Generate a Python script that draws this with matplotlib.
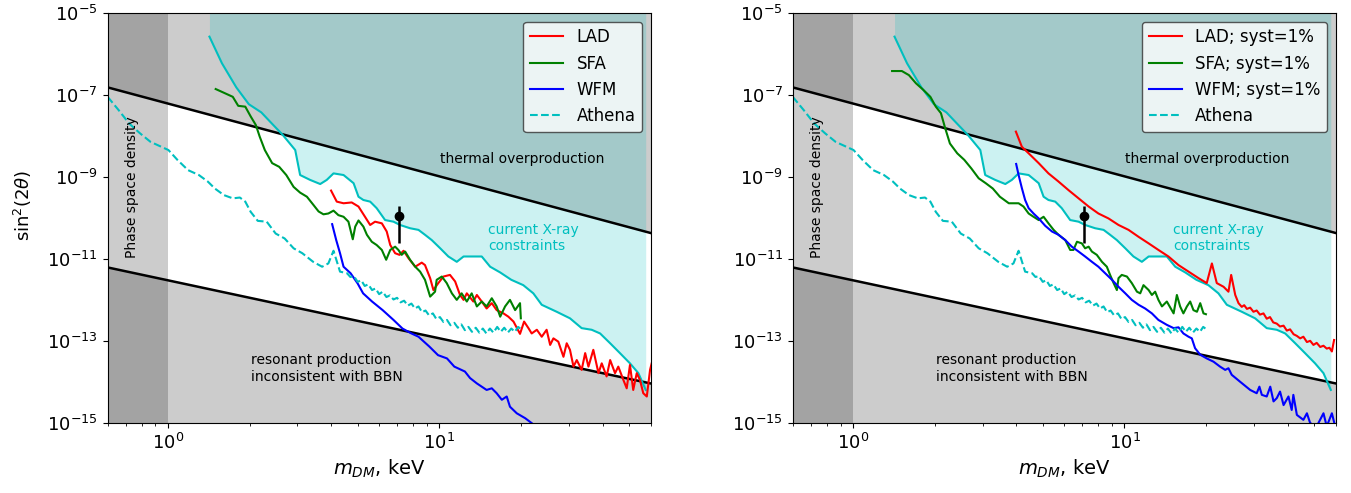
import matplotlib.pyplot as plt
import numpy as np
from matplotlib.ticker import NullLocator, LogLocator

# everything below:
# *_logm = log10(m_DM / keV), *_logs = log10(sin^2(2 theta))

# current X-ray constraints (solid cyan, same in both panels)
xray_logm = [0.153, 0.199, 0.252, 0.298, 0.344, 0.384, 0.423, 0.469, 0.487, 0.524,
             0.561, 0.585, 0.610, 0.647, 0.684, 0.702, 0.720, 0.745, 0.769, 0.800,
             0.831, 0.855, 0.892, 0.923, 0.947, 0.972, 1.003, 1.033, 1.064, 1.089,
             1.156, 1.187, 1.224, 1.265, 1.309, 1.346, 1.377, 1.432, 1.481, 1.524,
             1.561, 1.592, 1.629, 1.665, 1.702, 1.733, 1.760]
xray_logs = [-5.57, -6.22, -6.81, -7.22, -7.42, -7.70, -7.97, -8.34, -8.95, -9.07,
             -9.17, -9.07, -8.91, -8.95, -9.15, -9.48, -9.56, -9.60, -9.76, -10.05,
             -10.09, -10.17, -10.25, -10.29, -10.41, -10.54, -10.74, -10.94, -11.07, -10.94,
             -10.94, -11.19, -11.33, -11.51, -11.64, -11.84, -12.12, -12.29, -12.45, -12.69,
             -12.73, -12.82, -13.06, -13.30, -13.55, -13.79, -14.20]

# Athena (dashed cyan, same in both panels)
athena_logm = [-0.222, -0.182, -0.143, -0.103, -0.064, -0.031, 0.002, 0.035, 0.074, 0.114,
               0.147, 0.173, 0.206, 0.239, 0.265, 0.285, 0.305, 0.331, 0.364, 0.397,
               0.430, 0.463, 0.495, 0.535, 0.568, 0.591, 0.610, 0.634, 0.660, 0.672,
               0.685, 0.699, 0.712, 0.725, 0.738, 0.752, 0.765, 0.778, 0.791, 0.805,
               0.818, 0.831, 0.844, 0.857, 0.870, 0.884, 0.897, 0.910, 0.923, 0.936,
               0.949, 0.962, 0.976, 0.989, 1.002, 1.015, 1.028, 1.041, 1.055, 1.068,
               1.081, 1.094, 1.107, 1.120, 1.134, 1.147, 1.160, 1.173, 1.186, 1.199,
               1.213, 1.226, 1.239, 1.252, 1.265, 1.278, 1.290, 1.298]
athena_logs = [-7.04, -7.36, -7.69, -7.93, -8.14, -8.24, -8.34, -8.58, -8.83, -8.95,
               -9.11, -9.28, -9.44, -9.52, -9.50, -9.60, -9.85, -10.07, -10.09, -10.38,
               -10.50, -10.74, -10.86, -11.07, -11.19, -11.11, -10.80, -11.31, -11.35, -11.44,
               -11.42, -11.56, -11.52, -11.66, -11.62, -11.76, -11.72, -11.86, -11.80, -11.93,
               -11.89, -11.99, -11.95, -12.06, -12.02, -12.14, -12.09, -12.21, -12.16, -12.30,
               -12.26, -12.38, -12.33, -12.47, -12.42, -12.54, -12.49, -12.62, -12.56, -12.68,
               -12.60, -12.74, -12.66, -12.78, -12.68, -12.80, -12.70, -12.82, -12.70, -12.80,
               -12.66, -12.78, -12.68, -12.80, -12.70, -12.78, -12.66, -12.70]

# left panel: statistics only
lad_l_logm = [0.601, 0.622, 0.647, 0.677, 0.702, 0.726, 0.745, 0.763, 0.788, 0.806,
              0.819, 0.837, 0.853, 0.868, 0.886, 0.911, 0.935, 0.947, 0.966, 0.978,
              0.996, 1.015, 1.039, 1.058, 1.076, 1.089, 1.101, 1.125, 1.138, 1.156,
              1.174, 1.193, 1.211, 1.236, 1.254, 1.273, 1.297, 1.312, 1.328, 1.340,
              1.359, 1.377, 1.395, 1.408, 1.420, 1.438, 1.457, 1.469, 1.481, 1.494,
              1.506, 1.524, 1.537, 1.549, 1.567, 1.586, 1.598, 1.616, 1.629, 1.647,
              1.659, 1.678, 1.690, 1.702, 1.714, 1.727, 1.739, 1.751, 1.764, 1.776, 1.782]
lad_l_logs = [-9.33, -9.60, -9.64, -9.62, -9.72, -9.97, -10.17, -10.09, -10.13, -10.33,
              -10.66, -10.86, -10.90, -10.80, -10.98, -11.19, -11.09, -11.15, -11.47, -11.76,
              -11.59, -11.43, -11.39, -11.55, -11.88, -12.00, -11.84, -12.04, -11.88, -12.04,
              -12.21, -12.08, -12.25, -12.33, -12.41, -12.53, -12.83, -12.53, -12.69, -12.82,
              -12.73, -12.90, -12.73, -13.10, -12.94, -13.02, -13.39, -13.06, -13.22, -13.63,
              -13.47, -13.71, -13.30, -13.63, -13.22, -13.79, -13.55, -13.87, -13.47, -13.79,
              -13.63, -13.96, -14.16, -13.59, -14.20, -13.79, -13.96, -14.28, -14.36, -13.71, -13.55]

sfa_l_logm = [0.176, 0.206, 0.239, 0.259, 0.285, 0.305, 0.324, 0.338, 0.357, 0.384,
              0.410, 0.436, 0.463, 0.487, 0.512, 0.536, 0.555, 0.573, 0.591, 0.610,
              0.628, 0.647, 0.665, 0.681, 0.690, 0.702, 0.720, 0.733, 0.751, 0.769,
              0.788, 0.804, 0.819, 0.837, 0.849, 0.861, 0.874, 0.892, 0.911, 0.929,
              0.947, 0.966, 0.984, 0.990, 1.009, 1.027, 1.046, 1.064, 1.082, 1.101,
              1.119, 1.138, 1.156, 1.174, 1.193, 1.211, 1.224, 1.242, 1.260, 1.279,
              1.297, 1.300]
sfa_l_logs = [-6.85, -6.94, -7.04, -7.26, -7.28, -7.52, -7.73, -8.01, -8.34, -8.66,
              -8.75, -8.95, -9.24, -9.38, -9.48, -9.68, -9.84, -9.91, -9.89, -9.82,
              -9.93, -9.97, -10.09, -10.52, -10.21, -10.06, -10.21, -10.41, -10.58, -10.66,
              -10.78, -11.02, -10.78, -10.70, -10.78, -10.90, -10.82, -11.02, -11.19, -11.31,
              -11.51, -11.92, -11.80, -11.51, -11.43, -11.59, -11.84, -12.00, -11.84, -12.04,
              -11.84, -12.16, -12.04, -12.16, -11.96, -12.16, -12.41, -12.16, -12.00, -12.25,
              -12.08, -12.45]

wfm_l_logm = [0.605, 0.620, 0.634, 0.647, 0.673, 0.699, 0.719, 0.752, 0.791, 0.831,
              0.864, 0.897, 0.923, 0.963, 0.995, 1.028, 1.055, 1.094, 1.113, 1.138,
              1.156, 1.174, 1.193, 1.211, 1.230, 1.248, 1.260, 1.285, 1.316, 1.340]
wfm_l_logs = [-10.15, -10.54, -10.86, -11.19, -11.35, -11.60, -11.84, -12.04, -12.25, -12.49,
              -12.70, -12.82, -12.90, -13.14, -13.35, -13.43, -13.63, -13.75, -13.91, -14.04,
              -14.12, -14.20, -14.16, -14.28, -14.44, -14.36, -14.61, -14.77, -14.89, -15.01]

# right panel: 1% systematics
lad_r_logm = [0.600, 0.622, 0.647, 0.684, 0.720, 0.757, 0.794, 0.831, 0.868, 0.904,
              0.941, 0.978, 1.015, 1.052, 1.089, 1.125, 1.162, 1.199, 1.236, 1.273,
              1.303, 1.322, 1.340, 1.365, 1.383, 1.393, 1.408, 1.420, 1.432, 1.441,
              1.451, 1.463, 1.475, 1.487, 1.499, 1.512, 1.524, 1.536, 1.548, 1.561,
              1.573, 1.586, 1.598, 1.610, 1.623, 1.635, 1.647, 1.659, 1.672, 1.684,
              1.696, 1.708, 1.721, 1.733, 1.745, 1.755, 1.764, 1.772]
lad_r_logs = [-7.89, -8.26, -8.42, -8.66, -8.91, -9.11, -9.32, -9.52, -9.72, -9.89,
              -10.01, -10.17, -10.29, -10.46, -10.62, -10.78, -10.94, -11.15, -11.31, -11.47,
              -11.59, -11.11, -11.59, -11.68, -11.80, -11.39, -11.88, -12.08, -12.17, -12.13,
              -12.22, -12.19, -12.29, -12.26, -12.36, -12.33, -12.46, -12.42, -12.55, -12.58,
              -12.65, -12.63, -12.75, -12.72, -12.84, -12.88, -12.94, -12.90, -13.03, -13.00,
              -13.10, -13.05, -13.15, -13.12, -13.19, -13.17, -13.26, -12.98]

sfa_r_logm = [0.144, 0.180, 0.206, 0.232, 0.259, 0.285, 0.305, 0.324, 0.338, 0.357,
              0.384, 0.410, 0.436, 0.463, 0.489, 0.515, 0.541, 0.574, 0.610, 0.628,
              0.647, 0.665, 0.684, 0.702, 0.720, 0.739, 0.757, 0.782, 0.800, 0.812,
              0.825, 0.843, 0.855, 0.868, 0.880, 0.898, 0.917, 0.935, 0.947, 0.960,
              0.972, 0.978, 0.990, 1.009, 1.027, 1.046, 1.058, 1.070, 1.089, 1.101,
              1.113, 1.125, 1.138, 1.156, 1.181, 1.193, 1.205, 1.217, 1.230, 1.242,
              1.254, 1.267, 1.279, 1.291, 1.300]
sfa_r_logs = [-6.41, -6.41, -6.51, -6.71, -6.87, -7.04, -7.28, -7.44, -7.77, -8.18,
              -8.42, -8.58, -8.79, -9.03, -9.15, -9.28, -9.48, -9.64, -9.64, -9.72,
              -9.89, -9.97, -10.05, -9.97, -10.13, -10.29, -10.41, -10.54, -10.78, -10.78,
              -10.58, -10.62, -10.74, -10.70, -10.82, -10.90, -11.07, -11.19, -11.39, -11.59,
              -11.76, -11.47, -11.39, -11.43, -11.59, -11.80, -11.84, -11.64, -11.76, -11.88,
              -11.80, -12.00, -12.16, -12.04, -12.33, -11.88, -12.16, -12.33, -12.16, -12.04,
              -12.25, -12.29, -12.08, -12.33, -12.35]

wfm_r_logm = [0.601, 0.610, 0.622, 0.634, 0.647, 0.665, 0.684, 0.708, 0.733, 0.757,
              0.782, 0.806, 0.831, 0.855, 0.880, 0.904, 0.929, 0.954, 0.978, 1.003,
              1.027, 1.052, 1.076, 1.101, 1.125, 1.156, 1.181, 1.199, 1.217, 1.236,
              1.248, 1.260, 1.279, 1.303, 1.328, 1.352, 1.371, 1.383, 1.395, 1.426,
              1.463, 1.487, 1.497, 1.506, 1.524, 1.537, 1.549, 1.561, 1.573, 1.586,
              1.604, 1.616, 1.622, 1.635, 1.659, 1.672, 1.684, 1.708, 1.733, 1.745,
              1.764, 1.776]
wfm_r_logs = [-8.68, -8.95, -9.27, -9.56, -9.76, -9.89, -10.01, -10.19, -10.33, -10.41,
              -10.54, -10.70, -10.82, -10.94, -11.07, -11.19, -11.35, -11.51, -11.68, -11.84,
              -12.00, -12.12, -12.21, -12.33, -12.49, -12.61, -12.69, -12.67, -12.82, -12.90,
              -12.94, -13.18, -13.34, -13.43, -13.51, -13.63, -13.71, -13.67, -13.83, -14.00,
              -14.20, -14.28, -14.12, -14.32, -14.36, -14.12, -14.48, -14.40, -14.24, -14.57,
              -14.36, -14.69, -14.32, -14.81, -14.93, -14.77, -15.01, -15.09, -14.77, -15.09,
              -14.77, -15.09]

# excluded bands (straight lines in log-log)
thermal_m = [0.6, 60.0]
thermal_s2 = [1.55e-7, 4.3e-11]
resonant_m = [0.6, 60.0]
resonant_s2 = [6.2e-12, 9.1e-15]
phase_space_max = 1.0

# 3.5 keV line point
line_m = 7.1
line_s2 = 1.12e-10
line_err = [[0.88e-10], [0.83e-10]]

xmin, xmax = 0.6, 60.0
ymin, ymax = 1e-15, 1e-5

panels = [
    (lad_l_logm, lad_l_logs, sfa_l_logm, sfa_l_logs, wfm_l_logm, wfm_l_logs,
     ["LAD", "SFA", "WFM"]),
    (lad_r_logm, lad_r_logs, sfa_r_logm, sfa_r_logs, wfm_r_logm, wfm_r_logs,
     ["LAD; syst=1%", "SFA; syst=1%", "WFM; syst=1%"]),
]

plt.rcParams['font.size'] = 13

fig = plt.figure(figsize=(13.51, 4.93), dpi=100)
lefts = [0.0797, 0.5868]

for i, (lm, ls, sm, ss, wm, ws, names) in enumerate(panels):
    ax = fig.add_axes([lefts[i], 0.1426, 0.4019, 0.8304])

    # grey exclusion regions
    ax.axvspan(xmin, phase_space_max, color='k', alpha=0.2, lw=0)
    ax.fill_between(thermal_m, thermal_s2, ymax, color='k', alpha=0.2, lw=0)
    ax.fill_between(resonant_m, ymin, resonant_s2, color='k', alpha=0.2, lw=0)
    ax.plot(thermal_m, thermal_s2, color='k', lw=1.8)
    ax.plot(resonant_m, resonant_s2, color='k', lw=1.8)

    # current X-ray constraints
    xm = 10 ** np.array(xray_logm)
    xs = 10 ** np.array(xray_logs)
    ax.fill_between(xm, xs, ymax, color='c', alpha=0.2, lw=0)
    ax.plot(xm, xs, color='c', lw=1.5)

    ax.plot(10 ** np.array(lm), 10 ** np.array(ls), color='r', lw=1.5, label=names[0])
    ax.plot(10 ** np.array(sm), 10 ** np.array(ss), color='g', lw=1.5, label=names[1])
    ax.plot(10 ** np.array(wm), 10 ** np.array(ws), color='b', lw=1.5, label=names[2])
    ax.plot(10 ** np.array(athena_logm), 10 ** np.array(athena_logs), color='c',
            ls='--', lw=1.5, label="Athena")

    ax.errorbar([line_m], [line_s2], yerr=line_err, fmt='o', color='k',
                ms=6, elinewidth=1.8, capsize=0)

    ax.text(10.05, 2.7e-9, "thermal overproduction", fontsize=10, va='center')
    ax.text(15.1, 3.2e-11, "current X-ray\nconstraints", fontsize=10, color='c',
            va='center')
    ax.text(2.02, 2.1e-14, "resonant production\ninconsistent with BBN", fontsize=10,
            va='center')
    ax.text(0.735, 5.6e-10, "Phase space density", fontsize=10, rotation=90,
            ha='center', va='center')

    ax.set_xscale('log')
    ax.set_yscale('log')
    ax.set_xlim(xmin, xmax)
    ax.set_ylim(ymin, ymax)
    ax.set_yticks([1e-15, 1e-13, 1e-11, 1e-9, 1e-7, 1e-5])
    ax.yaxis.set_minor_locator(NullLocator())
    ax.xaxis.set_minor_locator(LogLocator(subs=np.arange(2, 10)))
    ax.set_xlabel("$m_{DM}$, keV", fontsize=14)
    if i == 0:
        ax.set_ylabel(r"sin$^2(2\theta)$", fontsize=13)
        ax.yaxis.set_label_coords(-0.135, 0.53)

    leg = ax.legend(loc='upper right', fontsize=12, framealpha=0.8)
    leg.get_frame().set_edgecolor('0.2')

fig.savefig("out.png", dpi=100)
